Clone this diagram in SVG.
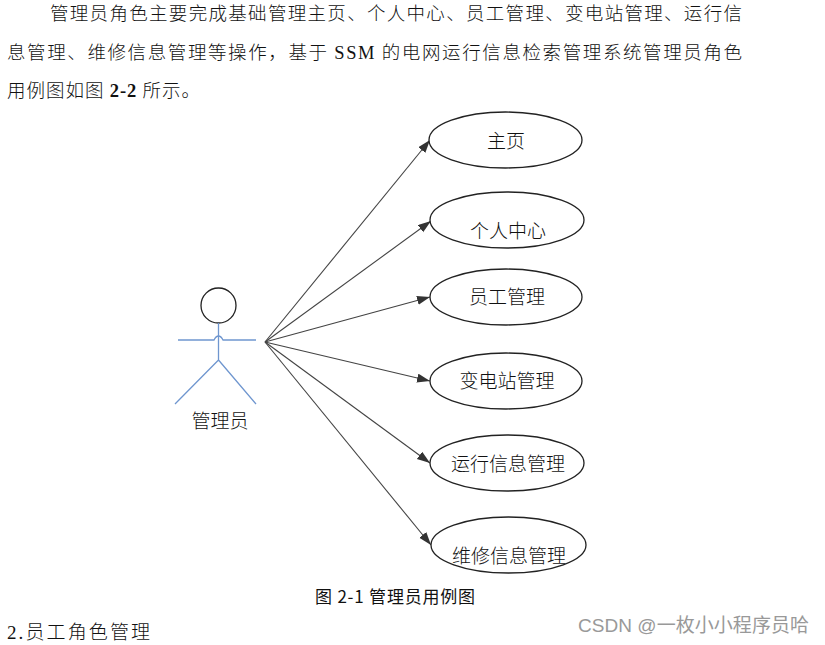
<svg xmlns="http://www.w3.org/2000/svg" width="825" height="645" viewBox="0 0 825 645">
<style>
text{font-family:"Noto Sans CJK SC","Liberation Serif",sans-serif;fill:#111;font-weight:300}
.b{font-size:18.500px}
.n{font-size:19px;text-anchor:middle}
.lat{font-family:"Liberation Serif","Noto Sans CJK SC",serif;font-weight:400}
.u{fill:#fff;stroke:#222;stroke-width:1.3}
.c{stroke:#444;stroke-width:1.1;fill:none;marker-end:url(#a)}
.bl{stroke:#6f96cf;fill:none;stroke-width:1.3}
</style>
<defs><marker id="a" markerUnits="userSpaceOnUse" markerWidth="14" markerHeight="10" refX="13" refY="4.5" orient="auto"><path d="M0 0L13 4.5L0 9Z" fill="#333"/></marker></defs>
<rect width="825" height="645" fill="#fff"/>
<g id="para">
<text class="b" x="50" y="20" textLength="692" lengthAdjust="spacing">管理员角色主要完成基础管理主页、个人中心、员工管理、变电站管理、运行信</text>
<text class="b" x="7" y="59" textLength="735" lengthAdjust="spacing">息管理、维修信息管理等操作，基于 <tspan class="lat">SSM</tspan> 的电网运行信息检索管理系统管理员角色</text>
<text class="b" x="7" y="97" textLength="193" lengthAdjust="spacing">用例图如图 <tspan class="lat" style="font-weight:700">2-2</tspan> 所示。</text>
</g>
<g id="connectors">
<path class="c" d="M265 342L430 140"/>
<path class="c" d="M265 342L431 221"/>
<path class="c" d="M265 342L430 297"/>
<path class="c" d="M265 342L430 381"/>
<path class="c" d="M265 342L430 463"/>
<path class="c" d="M265 342L431 545"/>
</g>
<g id="actor">
<circle class="u" cx="218.500" cy="305.500" r="17.500"/>
<path class="bl" d="M218.500 323V360M218.500 360L175 404M218.500 360L256 404"/>
<path class="bl" d="M178 340H214Q216 336 218.500 336Q221 336 223 340H256" stroke-width="1.600"/>
<text class="n" x="220" y="428">管理员</text>
</g>
<g id="n1"><ellipse class="u" cx="505.500" cy="140" rx="76.500" ry="28"/><text class="n" x="506" y="148">主页</text></g>
<g id="n2"><ellipse class="u" cx="507" cy="220" rx="77" ry="28"/><text class="n" x="508" y="238">个人中心</text></g>
<g id="n3"><ellipse class="u" cx="506" cy="297" rx="76" ry="28"/><text class="n" x="507" y="304">员工管理</text></g>
<g id="n4"><ellipse class="u" cx="506" cy="381" rx="76" ry="28"/><text class="n" x="507" y="388">变电站管理</text></g>
<g id="n5"><ellipse class="u" cx="507" cy="463" rx="77" ry="28"/><text class="n" x="508" y="471">运行信息管理</text></g>
<g id="n6"><ellipse class="u" cx="508.500" cy="545" rx="77.500" ry="28"/><text class="n" x="509" y="563">维修信息管理</text></g>
<text x="395" y="603" text-anchor="middle" style="font-size:17px;font-weight:400" textLength="160">图 2-1  管理员用例图</text>
<text x="7" y="639" style="font-size:19px" textLength="143"><tspan class="lat">2.</tspan>员工角色管理</text>
<text x="578" y="632" style="font-size:19px;fill:#999;font-weight:400;font-family:'Liberation Sans','Noto Sans CJK SC',sans-serif" textLength="231">CSDN @一枚小小程序员哈</text>
</svg>
